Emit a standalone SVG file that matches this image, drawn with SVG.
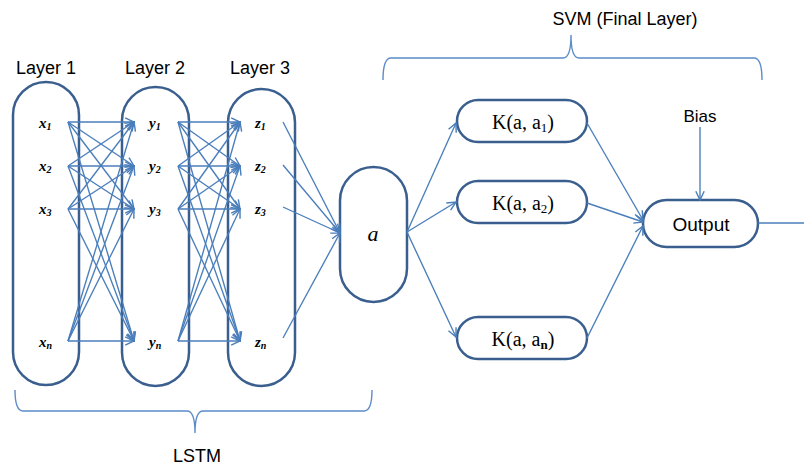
<svg xmlns="http://www.w3.org/2000/svg" width="804" height="466" viewBox="0 0 804 466">
  <defs>
    <marker id="arr" viewBox="0 0 10 10" refX="9" refY="5" markerWidth="11" markerHeight="11" markerUnits="userSpaceOnUse" orient="auto">
      <path d="M1,1.2 L9,5 L1,8.8" fill="none" stroke="#4A7EBB" stroke-width="1.3"/>
    </marker>
    <style>
      .pill { fill: #fff; stroke: #3A5F8F; stroke-width: 2.5; }
      .conn { stroke: #4A7EBB; stroke-width: 1.35; fill: none; marker-end: url(#arr); }
      .plain { stroke: #4A7EBB; stroke-width: 1.35; fill: none; }
      .brace { stroke: #5B8CC8; stroke-width: 1.4; fill: none; }
      .sans { font-family: "Liberation Sans", Arial, sans-serif; fill: #000; text-anchor: middle; }
      .var { font-family: "Liberation Serif", "Times New Roman", serif; font-style: italic; font-weight: bold; font-size: 15px; fill: #000; }
      .sub { font-size: 10px; }
      .kern { font-family: "Liberation Serif", "Times New Roman", serif; font-size: 20px; fill: #000; text-anchor: middle; }
    </style>
  </defs>

  <rect width="804" height="466" fill="#fff"/>

  <!-- titles -->
  <text class="sans" x="46" y="74" font-size="18">Layer 1</text>
  <text class="sans" x="155" y="74" font-size="18">Layer 2</text>
  <text class="sans" x="260" y="74" font-size="18">Layer 3</text>
  <text class="sans" x="625" y="25" font-size="18">SVM (Final Layer)</text>
  <text class="sans" x="700" y="122" font-size="17">Bias</text>
  <text class="sans" x="197" y="462" font-size="18">LSTM</text>

  <!-- braces -->
  <path class="brace" d="M383,80 Q383,58 391,58 L563,58 Q571,58 571,35 Q571,58 579,58 L754,58 Q762,58 762,80"/>
  <path class="brace" d="M15,390 Q15,411 23,411 L187,411 Q195,411 195,433 Q195,411 203,411 L364,411 Q372,411 372,390"/>

  <!-- layer columns -->
  <g id="layer1">
    <rect class="pill" x="13" y="82" width="66" height="303" rx="33"/>
    <text class="var" x="39" y="128">x<tspan class="sub" dy="2">1</tspan></text>
    <text class="var" x="39" y="171">x<tspan class="sub" dy="2">2</tspan></text>
    <text class="var" x="39" y="214">x<tspan class="sub" dy="2">3</tspan></text>
    <text class="var" x="39" y="347">x<tspan class="sub" dy="2">n</tspan></text>
  </g>
  <g id="layer2">
    <rect class="pill" x="122" y="87" width="67" height="299" rx="33.5"/>
    <text class="var" x="149" y="128">y<tspan class="sub" dy="2">1</tspan></text>
    <text class="var" x="149" y="171">y<tspan class="sub" dy="2">2</tspan></text>
    <text class="var" x="149" y="214">y<tspan class="sub" dy="2">3</tspan></text>
    <text class="var" x="149" y="347">y<tspan class="sub" dy="2">n</tspan></text>
  </g>
  <g id="layer3">
    <rect class="pill" x="228" y="89" width="67" height="297" rx="33.5"/>
    <text class="var" x="255" y="128">z<tspan class="sub" dy="2">1</tspan></text>
    <text class="var" x="255" y="171">z<tspan class="sub" dy="2">2</tspan></text>
    <text class="var" x="255" y="214">z<tspan class="sub" dy="2">3</tspan></text>
    <text class="var" x="255" y="347">z<tspan class="sub" dy="2">n</tspan></text>
  </g>
  <g id="node-a">
    <rect class="pill" x="340" y="167" width="67" height="135" rx="33.5"/>
    <text x="373" y="241" font-family="Liberation Serif, Times New Roman, serif" font-style="italic" font-size="22" text-anchor="middle">a</text>
  </g>
  <g id="k1">
    <rect class="pill" x="457" y="100" width="130" height="42" rx="21"/>
    <text class="kern" x="523" y="129">K(a, a<tspan font-size="13" dy="3">1</tspan><tspan dy="-3">)</tspan></text>
  </g>
  <g id="k2">
    <rect class="pill" x="457" y="181" width="130" height="42" rx="21"/>
    <text class="kern" x="523" y="210">K(a, a<tspan font-size="13" dy="3">2</tspan><tspan dy="-3">)</tspan></text>
  </g>
  <g id="kn">
    <rect class="pill" x="457" y="317" width="130" height="42" rx="21"/>
    <text class="kern" x="523" y="346">K(a, a<tspan font-size="13" dy="3" font-weight="bold">n</tspan><tspan dy="-3">)</tspan></text>
  </g>
  <g id="output">
    <rect class="pill" x="643" y="200" width="115" height="47" rx="23.5"/>
    <text class="sans" x="701" y="231" font-size="19">Output</text>
  </g>

  <!-- connectors -->
  <g id="connectors">
    <!-- layer 1 to layer 2: every x to every y -->
    <g>
      <line class="conn" x1="68" y1="122" x2="134" y2="122"/>
      <line class="conn" x1="68" y1="122" x2="134" y2="166"/>
      <line class="conn" x1="68" y1="122" x2="134" y2="209"/>
      <line class="conn" x1="68" y1="122" x2="134" y2="341"/>
      <line class="conn" x1="68" y1="166" x2="134" y2="122"/>
      <line class="conn" x1="68" y1="166" x2="134" y2="166"/>
      <line class="conn" x1="68" y1="166" x2="134" y2="209"/>
      <line class="conn" x1="68" y1="166" x2="134" y2="341"/>
      <line class="conn" x1="68" y1="209" x2="134" y2="122"/>
      <line class="conn" x1="68" y1="209" x2="134" y2="166"/>
      <line class="conn" x1="68" y1="209" x2="134" y2="209"/>
      <line class="conn" x1="68" y1="209" x2="134" y2="341"/>
      <line class="conn" x1="68" y1="341" x2="134" y2="122"/>
      <line class="conn" x1="68" y1="341" x2="134" y2="166"/>
      <line class="conn" x1="68" y1="341" x2="134" y2="209"/>
      <line class="conn" x1="68" y1="341" x2="134" y2="341"/>
    </g>
    <!-- layer 2 to layer 3 -->
    <g>
      <line class="conn" x1="178" y1="122" x2="240" y2="122"/>
      <line class="conn" x1="178" y1="122" x2="240" y2="166"/>
      <line class="conn" x1="178" y1="122" x2="240" y2="209"/>
      <line class="conn" x1="178" y1="122" x2="240" y2="341"/>
      <line class="conn" x1="178" y1="166" x2="240" y2="122"/>
      <line class="conn" x1="178" y1="166" x2="240" y2="166"/>
      <line class="conn" x1="178" y1="166" x2="240" y2="209"/>
      <line class="conn" x1="178" y1="166" x2="240" y2="341"/>
      <line class="conn" x1="178" y1="209" x2="240" y2="122"/>
      <line class="conn" x1="178" y1="209" x2="240" y2="166"/>
      <line class="conn" x1="178" y1="209" x2="240" y2="209"/>
      <line class="conn" x1="178" y1="209" x2="240" y2="341"/>
      <line class="conn" x1="178" y1="341" x2="240" y2="122"/>
      <line class="conn" x1="178" y1="341" x2="240" y2="166"/>
      <line class="conn" x1="178" y1="341" x2="240" y2="209"/>
      <line class="conn" x1="178" y1="341" x2="240" y2="341"/>
    </g>
    <!-- layer 3 into a -->
    <line class="conn" x1="283" y1="122" x2="340" y2="233"/>
    <line class="conn" x1="283" y1="165" x2="340" y2="233"/>
    <line class="conn" x1="283" y1="207" x2="340" y2="233"/>
    <line class="conn" x1="283" y1="338" x2="340" y2="233"/>
    <!-- a to kernels -->
    <line class="conn" x1="407" y1="232" x2="456" y2="123"/>
    <line class="conn" x1="407" y1="232" x2="456" y2="202"/>
    <line class="conn" x1="407" y1="232" x2="456" y2="337"/>
    <!-- kernels to output -->
    <line class="conn" x1="587" y1="123" x2="643" y2="220"/>
    <line class="conn" x1="587" y1="203" x2="643" y2="222"/>
    <line class="conn" x1="587" y1="338" x2="643" y2="226"/>
    <!-- bias and output line -->
    <line class="conn" x1="700" y1="127" x2="700" y2="200"/>
    <line class="plain" x1="758" y1="223" x2="804" y2="223"/>
  </g>
</svg>
